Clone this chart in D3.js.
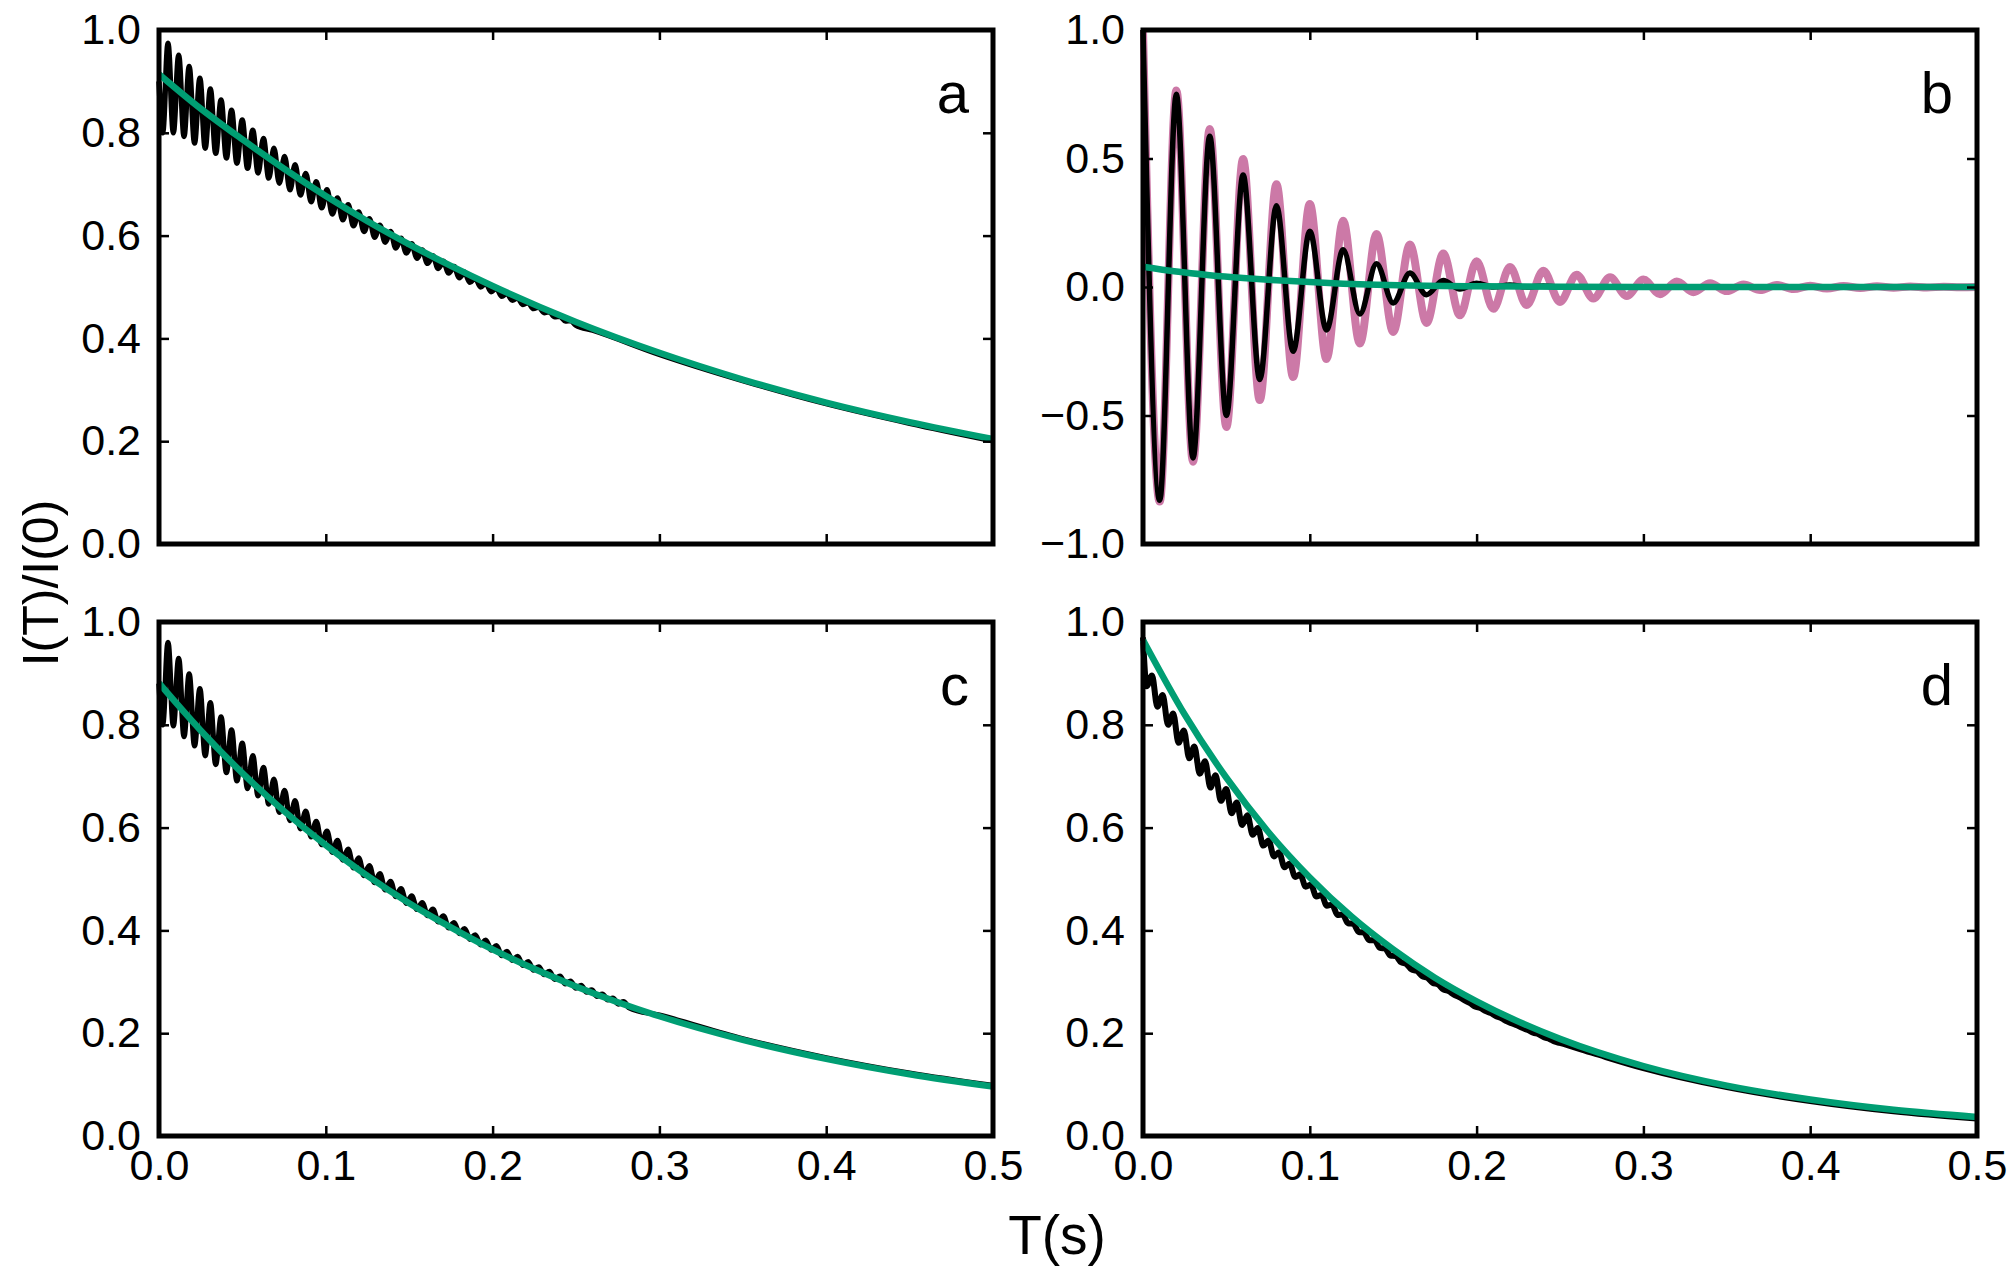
<!DOCTYPE html>
<html>
<head>
<meta charset="utf-8">
<script src="https://cdn.jsdelivr.net/npm/d3@7"></script>
<style>
    body { margin: 0; background: #fff; }
    text { font-family: "Liberation Sans", Arial, Helvetica, sans-serif; fill: #000; }
</style>
</head>
<body>
<svg id="chart" width="2010" height="1278"></svg>
<script>
// tick values
var tTicks = [0, 0.1, 0.2, 0.3, 0.4, 0.5];
var unitTicks = [0, 0.2, 0.4, 0.6, 0.8, 1.0];
var signedTicks = [-1, -0.5, 0, 0.5, 1];

// panel a : measured (black) and fit (green)
var aGreen = [[0, 0.914], [0.025, 0.847], [0.05, 0.787], [0.075, 0.730], [0.1, 0.677], [0.125, 0.628],
    [0.15, 0.583], [0.175, 0.541], [0.2, 0.502], [0.25, 0.432], [0.3, 0.372], [0.35, 0.320],
    [0.4, 0.275], [0.45, 0.237], [0.5, 0.204]];
var aBlack = [[0, 0.900], [0.0022, 0.800],
    [0.0054, 0.974], [0.0086, 0.800], [0.0118, 0.951], [0.0150, 0.793], [0.0181, 0.929], [0.0213, 0.780],
    [0.0245, 0.906], [0.0277, 0.770], [0.0308, 0.885], [0.0340, 0.760], [0.0372, 0.864], [0.0404, 0.751],
    [0.0435, 0.844], [0.0467, 0.741], [0.0499, 0.825], [0.0531, 0.731], [0.0562, 0.805], [0.0594, 0.722],
    [0.0626, 0.789], [0.0658, 0.712], [0.0689, 0.770], [0.0721, 0.702], [0.0753, 0.754], [0.0785, 0.689],
    [0.0816, 0.738], [0.0848, 0.679], [0.0880, 0.721], [0.0912, 0.666], [0.0943, 0.705], [0.0975, 0.654],
    [0.1007, 0.689], [0.1039, 0.642], [0.1070, 0.673], [0.1102, 0.631], [0.1134, 0.660], [0.1166, 0.619],
    [0.1197, 0.646], [0.1229, 0.608], [0.1261, 0.633], [0.1293, 0.597], [0.1324, 0.620], [0.1356, 0.587],
    [0.1388, 0.608], [0.1420, 0.576], [0.1451, 0.595], [0.1483, 0.566], [0.1515, 0.584], [0.1547, 0.556],
    [0.1578, 0.572], [0.1610, 0.546], [0.1642, 0.561], [0.1674, 0.536], [0.1705, 0.550], [0.1737, 0.527],
    [0.1769, 0.540], [0.1801, 0.518], [0.1832, 0.529], [0.1864, 0.509], [0.1896, 0.518], [0.1928, 0.500],
    [0.1959, 0.508], [0.1991, 0.491], [0.2023, 0.498], [0.2055, 0.482], [0.2086, 0.488], [0.2118, 0.474],
    [0.2150, 0.479], [0.2182, 0.466], [0.2213, 0.470], [0.2245, 0.458], [0.2277, 0.461], [0.2309, 0.450],
    [0.2340, 0.452], [0.2372, 0.442], [0.2404, 0.443], [0.2436, 0.434], [0.2467, 0.435], [0.2499, 0.426],
    [0.26, 0.416], [0.30, 0.369], [0.35, 0.318], [0.40, 0.273], [0.45, 0.235], [0.50, 0.201]];

// panel b : measured (black), second signal (pink), fit (green)
var bBlack = [[0, 1.0], [0.01, -0.830], [0.02, 0.750], [0.03, -0.665], [0.04, 0.587], [0.05, -0.500],
    [0.06, 0.436], [0.07, -0.360], [0.08, 0.316], [0.09, -0.250], [0.10, 0.217], [0.11, -0.167],
    [0.12, 0.145], [0.13, -0.105], [0.14, 0.090], [0.15, -0.062], [0.16, 0.054], [0.17, -0.030],
    [0.18, 0.025], [0.19, -0.008], [0.20, 0.015], [0.21, 0.000], [0.22, 0.008], [0.23, 0.000],
    [0.24, 0.004], [0.25, 0.000], [0.30, 0.000], [0.40, 0.000], [0.50, 0.000]];
var bPink = [[0, 1.0], [0.01, -0.835], [0.02, 0.765], [0.03, -0.680], [0.04, 0.615], [0.05, -0.545],
    [0.06, 0.498], [0.07, -0.440], [0.08, 0.400], [0.09, -0.350], [0.10, 0.323], [0.11, -0.280],
    [0.12, 0.258], [0.13, -0.220], [0.14, 0.206], [0.15, -0.175], [0.16, 0.165], [0.17, -0.140],
    [0.18, 0.130], [0.19, -0.110], [0.20, 0.100], [0.21, -0.085], [0.22, 0.078], [0.23, -0.070],
    [0.24, 0.063], [0.25, -0.058], [0.26, 0.048], [0.27, -0.045], [0.28, 0.038], [0.29, -0.035],
    [0.30, 0.029], [0.31, -0.028], [0.32, 0.021], [0.33, -0.020], [0.34, 0.015], [0.35, -0.016],
    [0.36, 0.010], [0.37, -0.012], [0.38, 0.008], [0.39, -0.008], [0.40, 0.005], [0.41, -0.006],
    [0.42, 0.004], [0.43, -0.004], [0.44, 0.003], [0.45, -0.003], [0.46, 0.002], [0.47, -0.002],
    [0.48, 0.001], [0.49, -0.001], [0.50, 0.000]];
var bGreen = [[0, 0.079], [0.02, 0.060], [0.04, 0.046], [0.06, 0.035], [0.08, 0.026], [0.1, 0.019],
    [0.12, 0.013], [0.14, 0.009], [0.16, 0.006], [0.18, 0.004], [0.2, 0.003], [0.25, 0.001],
    [0.3, 0.0], [0.4, 0.0], [0.5, 0.0]];

// panel c
var cGreen = [[0, 0.881], [0.025, 0.789], [0.05, 0.706], [0.075, 0.632], [0.1, 0.566], [0.125, 0.506],
    [0.15, 0.453], [0.175, 0.406], [0.2, 0.363], [0.25, 0.291], [0.3, 0.233], [0.35, 0.187],
    [0.4, 0.150], [0.45, 0.120], [0.5, 0.096]];
var cBlack = [[0, 0.880], [0.0022, 0.800],
    [0.0054, 0.960], [0.0086, 0.798], [0.0118, 0.929], [0.0150, 0.777], [0.0181, 0.899], [0.0213, 0.759],
    [0.0245, 0.870], [0.0277, 0.740], [0.0308, 0.843], [0.0340, 0.723], [0.0372, 0.815], [0.0404, 0.707],
    [0.0435, 0.790], [0.0467, 0.691], [0.0499, 0.764], [0.0531, 0.676], [0.0562, 0.740], [0.0594, 0.662],
    [0.0626, 0.717], [0.0658, 0.646], [0.0689, 0.694], [0.0721, 0.630], [0.0753, 0.672], [0.0785, 0.614],
    [0.0816, 0.652], [0.0848, 0.598], [0.0880, 0.632], [0.0912, 0.582], [0.0943, 0.612], [0.0975, 0.567],
    [0.1007, 0.593], [0.1039, 0.552], [0.1070, 0.575], [0.1102, 0.537], [0.1134, 0.558], [0.1166, 0.522],
    [0.1197, 0.541], [0.1229, 0.507], [0.1261, 0.526], [0.1293, 0.493], [0.1324, 0.510], [0.1356, 0.479],
    [0.1388, 0.495], [0.1420, 0.466], [0.1451, 0.481], [0.1483, 0.453], [0.1515, 0.467], [0.1547, 0.441],
    [0.1578, 0.454], [0.1610, 0.429], [0.1642, 0.441], [0.1674, 0.417], [0.1705, 0.428], [0.1737, 0.405],
    [0.1769, 0.415], [0.1801, 0.394], [0.1832, 0.403], [0.1864, 0.383], [0.1896, 0.391], [0.1928, 0.372],
    [0.1959, 0.381], [0.1991, 0.362], [0.2023, 0.370], [0.2055, 0.351], [0.2086, 0.359], [0.2118, 0.342],
    [0.2150, 0.349], [0.2182, 0.332], [0.2213, 0.339], [0.2245, 0.323], [0.2277, 0.329], [0.2309, 0.314],
    [0.2340, 0.320], [0.2372, 0.305], [0.2404, 0.311], [0.2436, 0.296], [0.2467, 0.301], [0.2499, 0.288],
    [0.2531, 0.293], [0.2563, 0.280], [0.2594, 0.284], [0.2626, 0.272], [0.2658, 0.276], [0.2690, 0.265],
    [0.2721, 0.268], [0.2753, 0.257], [0.2785, 0.261], [0.2817, 0.250],
    [0.30, 0.235], [0.35, 0.189], [0.40, 0.152], [0.45, 0.122], [0.50, 0.098]];

// panel d
var dGreen = [[0, 0.965], [0.025, 0.820], [0.05, 0.697], [0.075, 0.592], [0.1, 0.503], [0.125, 0.427],
    [0.15, 0.363], [0.175, 0.308], [0.2, 0.262], [0.25, 0.189], [0.3, 0.136], [0.35, 0.098],
    [0.4, 0.071], [0.45, 0.051], [0.5, 0.037]];
var dBlack = [[0, 0.970], [0.0022, 0.875],
    [0.0054, 0.896], [0.0086, 0.835], [0.0118, 0.858], [0.0150, 0.800], [0.0181, 0.822], [0.0213, 0.765],
    [0.0245, 0.789], [0.0277, 0.735], [0.0308, 0.758], [0.0340, 0.705], [0.0372, 0.729], [0.0404, 0.678],
    [0.0435, 0.702], [0.0467, 0.652], [0.0499, 0.675], [0.0531, 0.628], [0.0562, 0.649], [0.0594, 0.605],
    [0.0626, 0.624], [0.0658, 0.586], [0.0689, 0.599], [0.0721, 0.565], [0.0753, 0.575], [0.0785, 0.544],
    [0.0816, 0.552], [0.0848, 0.523], [0.0880, 0.530], [0.0912, 0.504], [0.0943, 0.509], [0.0975, 0.485],
    [0.1007, 0.489], [0.1039, 0.466], [0.1070, 0.469], [0.1102, 0.448], [0.1134, 0.450], [0.1166, 0.430],
    [0.1197, 0.431], [0.1229, 0.414], [0.1261, 0.413], [0.1293, 0.397], [0.1324, 0.396], [0.1356, 0.381],
    [0.1388, 0.381], [0.1420, 0.366], [0.1451, 0.365], [0.1483, 0.351], [0.1515, 0.350], [0.1547, 0.338],
    [0.1578, 0.335], [0.1610, 0.324], [0.1642, 0.321], [0.1674, 0.311], [0.1705, 0.308], [0.1737, 0.298],
    [0.1769, 0.295], [0.1801, 0.285], [0.1832, 0.282], [0.1864, 0.275], [0.1896, 0.270], [0.1928, 0.264],
    [0.1959, 0.259], [0.1991, 0.252], [0.2023, 0.249], [0.2055, 0.243], [0.2086, 0.239], [0.2118, 0.233],
    [0.2150, 0.229], [0.2182, 0.223], [0.2213, 0.219], [0.2245, 0.215], [0.2277, 0.210], [0.2309, 0.206],
    [0.2340, 0.201], [0.2372, 0.198], [0.2404, 0.192], [0.2436, 0.189], [0.2467, 0.184], [0.2499, 0.181],
    [0.27, 0.161], [0.30, 0.132], [0.35, 0.095], [0.40, 0.068], [0.45, 0.048], [0.50, 0.034]];

var green = "#009e73",
    pink = "#cc79a7",
    black = "#000000";

var svg = d3.select("#chart");

var panels = [
    {letter: "a", left: 159, top: 30, yDomain: [0, 1], yTicks: unitTicks, xLabels: false,
        series: [{data: aBlack, color: black, width: 5.5}, {data: aGreen, color: green, width: 6.5}]},
    {letter: "b", left: 1143, top: 30, yDomain: [-1, 1], yTicks: signedTicks, xLabels: false,
        series: [{data: bPink, color: pink, width: 8}, {data: bBlack, color: black, width: 5.5},
            {data: bGreen, color: green, width: 6.5}]},
    {letter: "c", left: 159, top: 622, yDomain: [0, 1], yTicks: unitTicks, xLabels: true,
        series: [{data: cBlack, color: black, width: 5.5}, {data: cGreen, color: green, width: 6.5}]},
    {letter: "d", left: 1143, top: 622, yDomain: [0, 1], yTicks: unitTicks, xLabels: true,
        series: [{data: dBlack, color: black, width: 6}, {data: dGreen, color: green, width: 6.5}]}
];
var width = 834, height = 514;

var fmt = d3.format(".1f");

function styleAxis(g) {
    g.select(".domain").remove();
    g.attr("font-family", null).attr("font-size", 43);
    g.selectAll(".tick line").attr("stroke", "#000").attr("stroke-width", 2.5);
}

panels.forEach(function (p, i) {
    var x = d3.scaleLinear().domain([0, 0.5]).range([0, width]);
    var y = d3.scaleLinear().domain(p.yDomain).range([height, 0]);

    var chart = svg.append("g")
        .attr("transform", "translate(" + p.left + "," + p.top + ")");

    chart.append("clipPath").attr("id", "clip" + i)
        .append("rect")
        .attr("x", -3).attr("y", 0)
        .attr("width", width + 3).attr("height", height);

    var line = d3.line()
        .curve(d3.curveMonotoneX)
        .x(function (d) { return x(d[0]); })
        .y(function (d) { return y(d[1]); });

    chart.append("g").attr("clip-path", "url(#clip" + i + ")")
        .selectAll("path")
        .data(p.series)
        .enter().append("path")
        .attr("d", function (d) { return line(d.data); })
        .style("fill", "none")
        .style("stroke", function (d) { return d.color; })
        .style("stroke-width", function (d) { return d.width; })
        .style("stroke-linejoin", "round");

    // axes, ticks pointing inward on all four sides
    chart.append("g")
        .attr("transform", "translate(0," + height + ")")
        .call(d3.axisBottom(x).tickValues(tTicks).tickSize(-10).tickPadding(13)
            .tickFormat(p.xLabels ? fmt : ""))
        .call(styleAxis);
    chart.append("g")
        .call(d3.axisTop(x).tickValues(tTicks).tickSize(-10).tickFormat(""))
        .call(styleAxis);
    chart.append("g")
        .call(d3.axisLeft(y).tickValues(p.yTicks).tickSize(-10).tickPadding(18).tickFormat(fmt))
        .call(styleAxis);
    chart.append("g")
        .attr("transform", "translate(" + width + ",0)")
        .call(d3.axisRight(y).tickValues(p.yTicks).tickSize(-10).tickFormat(""))
        .call(styleAxis);

    chart.append("rect")
        .attr("width", width)
        .attr("height", height)
        .style("fill", "none")
        .style("stroke", "#000")
        .style("stroke-width", 5);

    chart.append("text")
        .attr("x", width - 24)
        .attr("y", 83)
        .style("text-anchor", "end")
        .style("font-size", "58px")
        .text(p.letter);
});

svg.append("text")
    .attr("x", 1057)
    .attr("y", 1254)
    .style("text-anchor", "middle")
    .style("font-size", "55px")
    .text("T(s)");

svg.append("text")
    .attr("transform", "translate(40,583) rotate(-90)")
    .attr("dy", "0.35em")
    .style("text-anchor", "middle")
    .style("font-size", "50px")
    .text("I(T)/I(0)");
</script>
</body>
</html>
